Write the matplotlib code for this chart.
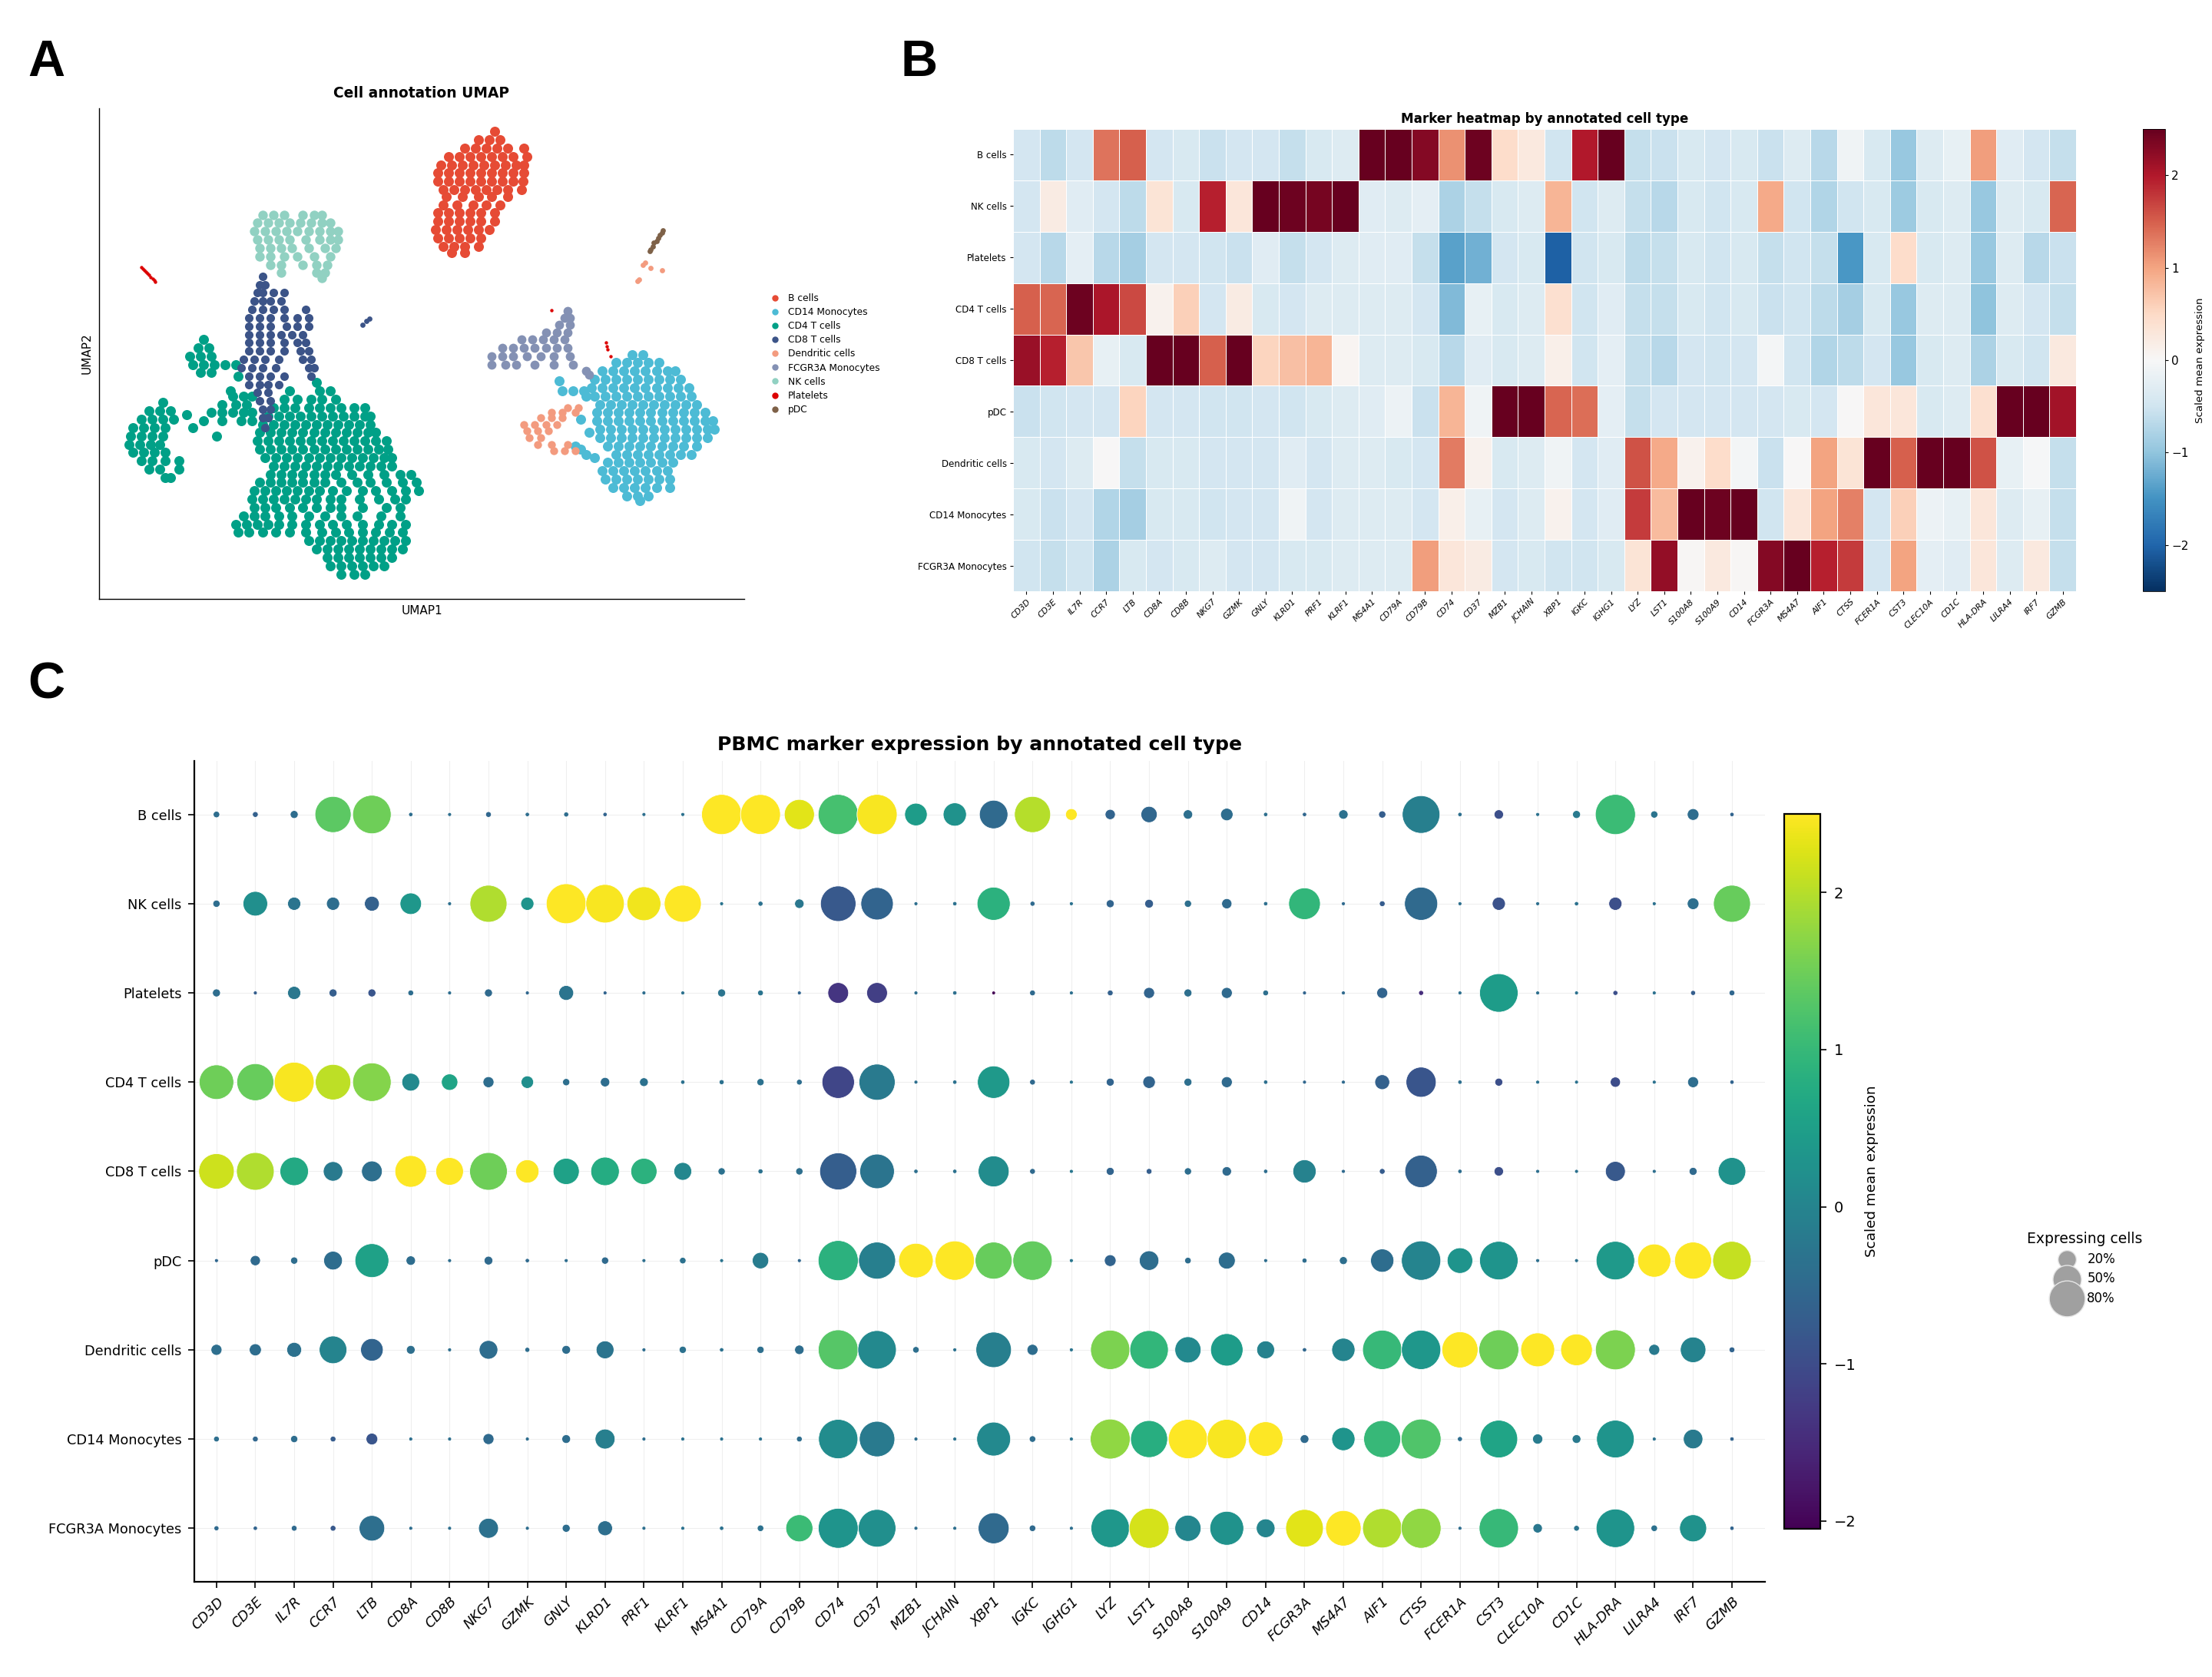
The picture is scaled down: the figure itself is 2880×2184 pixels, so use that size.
import numpy as np
import matplotlib
matplotlib.use("Agg")
import matplotlib.pyplot as plt

W, H = 2880, 2184
DPI = 200

genes = ["CD3D", "CD3E", "IL7R", "CCR7", "LTB", "CD8A", "CD8B", "NKG7", "GZMK", "GNLY",
         "KLRD1", "PRF1", "KLRF1", "MS4A1", "CD79A", "CD79B", "CD74", "CD37", "MZB1", "JCHAIN",
         "XBP1", "IGKC", "IGHG1", "LYZ", "LST1", "S100A8", "S100A9", "CD14", "FCGR3A", "MS4A7",
         "AIF1", "CTSS", "FCER1A", "CST3", "CLEC10A", "CD1C", "HLA-DRA", "LILRA4", "IRF7", "GZMB"]
cell_types = ["B cells", "NK cells", "Platelets", "CD4 T cells", "CD8 T cells", "pDC",
              "Dendritic cells", "CD14 Monocytes", "FCGR3A Monocytes"]

b_mean = [-0.45, -0.65, -0.45, 1.35, 1.5, -0.45, -0.4, -0.55, -0.45, -0.45, -0.6, -0.4, -0.35, 2.5, 2.5, 2.3, 1.15, 2.45, 0.45, 0.25,
          -0.5, 2.0, 2.5, -0.6, -0.55, -0.4, -0.45, -0.4, -0.55, -0.35, -0.7, -0.1, -0.4, -0.95, -0.35, -0.2, 1.05, -0.3, -0.45, -0.6]
nk_mean = [-0.45, 0.2, -0.3, -0.45, -0.65, 0.35, -0.4, 1.95, 0.3, 2.5, 2.45, 2.4, 2.5, -0.3, -0.35, -0.25, -0.8, -0.6, -0.4, -0.35,
           0.85, -0.5, -0.35, -0.6, -0.7, -0.4, -0.5, -0.4, 0.95, -0.5, -0.75, -0.5, -0.4, -0.9, -0.4, -0.35, -0.95, -0.35, -0.4, 1.45]
plt_mean = [-0.45, -0.7, -0.25, -0.7, -0.85, -0.45, -0.45, -0.5, -0.55, -0.3, -0.6, -0.45, -0.35, -0.3, -0.3, -0.6, -1.35, -1.2, -0.45, -0.4,
            -2.05, -0.5, -0.4, -0.65, -0.6, -0.4, -0.5, -0.4, -0.6, -0.5, -0.6, -1.45, -0.4, 0.45, -0.4, -0.35, -0.95, -0.35, -0.7, -0.55]
cd4_mean = [1.5, 1.45, 2.45, 2.05, 1.65, 0.1, 0.6, -0.45, 0.2, -0.4, -0.45, -0.35, -0.35, -0.35, -0.35, -0.45, -1.1, -0.2, -0.4, -0.35,
            0.4, -0.5, -0.3, -0.6, -0.6, -0.4, -0.5, -0.4, -0.55, -0.5, -0.65, -0.85, -0.4, -0.95, -0.35, -0.35, -1.0, -0.35, -0.45, -0.6]
cd8_mean = [2.15, 1.95, 0.7, -0.2, -0.4, 2.5, 2.5, 1.5, 2.5, 0.55, 0.75, 0.85, 0.05, -0.35, -0.35, -0.4, -0.7, -0.3, -0.4, -0.35,
            0.15, -0.5, -0.25, -0.6, -0.7, -0.45, -0.5, -0.45, -0.05, -0.5, -0.75, -0.65, -0.45, -0.95, -0.4, -0.35, -0.8, -0.4, -0.5, 0.25]
pdc_mean = [-0.55, -0.5, -0.45, -0.45, 0.55, -0.45, -0.45, -0.5, -0.5, -0.45, -0.5, -0.4, -0.35, -0.3, -0.15, -0.55, 0.85, -0.1, 2.5, 2.5,
            1.45, 1.4, -0.25, -0.6, -0.45, -0.45, -0.45, -0.45, -0.45, -0.4, -0.45, 0.0, 0.3, 0.3, -0.4, -0.35, 0.4, 2.5, 2.5, 2.1]
dc_mean = [-0.4, -0.45, -0.35, 0.0, -0.6, -0.4, -0.4, -0.45, -0.45, -0.45, -0.3, -0.45, -0.35, -0.35, -0.4, -0.45, 1.3, 0.1, -0.4, -0.35,
           -0.1, -0.45, -0.3, 1.6, 0.95, 0.1, 0.45, -0.05, -0.55, 0.0, 1.0, 0.35, 2.5, 1.5, 2.5, 2.5, 1.6, -0.2, -0.02, -0.6]
cd14_mean = [-0.4, -0.55, -0.45, -0.75, -0.85, -0.4, -0.4, -0.5, -0.45, -0.45, -0.1, -0.45, -0.35, -0.35, -0.35, -0.45, 0.15, -0.2, -0.45, -0.35,
             0.1, -0.45, -0.3, 1.75, 0.8, 2.5, 2.45, 2.5, -0.5, 0.3, 1.0, 1.25, -0.45, 0.6, -0.15, -0.2, 0.3, -0.35, -0.2, -0.6]
fcgr_mean = [-0.5, -0.6, -0.5, -0.8, -0.4, -0.45, -0.4, -0.35, -0.45, -0.45, -0.4, -0.4, -0.35, -0.35, -0.35, 1.05, 0.3, 0.2, -0.45, -0.4,
             -0.5, -0.5, -0.4, 0.35, 2.2, 0.03, 0.25, 0.02, 2.3, 2.5, 1.95, 1.75, -0.45, 1.0, -0.25, -0.3, 0.3, -0.35, 0.25, -0.6]

# percent of expressing cells
b_pct = [1.8, 1.2, 3.1, 81, 92, .3, .1, 1.2, .3, .7, .3, .1, .1, 100, 99, 56, 100, 100, 31, 33,
         50, 81, 7.7, 5.7, 15.7, 4.7, 8.9, .3, .3, 4.7, 2.4, 88, .3, 4.7, .1, 3.1, 100, 2.4, 7.7, .3]
nk_pct = [2.4, 37, 10, 10, 13, 28, .1, 85, 10, 99, 92, 71, 85, .1, .7, 4.7, 78, 65, .1, .3,
          68, .7, .1, 3.1, 3.9, 2.4, 5.7, .3, 62, .1, 1.2, 68, .1, 10, .1, .3, 10, .1, 7.7, 85]
plt_pct = [3.1, .1, 10, 3.1, 3.1, 1.2, .1, 3.1, .1, 13, .1, .1, .1, 3.1, 1.2, .1, 26, 26, .1, .3,
           0, 1.2, .1, 1.2, 6.7, 3.1, 6.7, 1.2, .1, .1, 6.7, .7, .1, 92, .1, .1, .7, .1, .7, 1.2]
cd4_pct = [74, 85, 99, 78, 92, 19, 16, 6.7, 8.9, 2.4, 4.7, 3.9, .3, .7, 2.4, 1.2, 65, 81, .1, .3,
           65, 1.2, .1, 3.1, 8.9, 3.1, 6.7, .3, .1, .1, 13, 56, .3, 3.1, .1, .1, 5.7, .1, 6.7, .3]
cd8_pct = [78, 88, 50, 23, 26, 62, 47, 88, 33, 42, 50, 42, 19, 2.4, .7, 2.4, 85, 74, .3, .3,
           59, 1.2, .1, 3.1, 1.2, 2.4, 4.7, .3, 33, .1, 1.2, 65, .3, 4.7, .1, .1, 24, .1, 3.1, 47]
pdc_pct = [.1, 5.7, 2.4, 21, 71, 4.7, .1, 3.9, .3, .1, 2.4, .1, 1.8, .1, 16, .1, 100, 85, 74, 96,
           85, 96, .1, 7.7, 23, 1.8, 17, .1, .7, 3.1, 33, 96, 40, 92, .1, .1, 92, 68, 85, 92]
dc_pct = [6.7, 8.3, 13, 47, 31, 3.9, .1, 21, .7, 3.9, 19, .1, 2.4, .3, 2.4, 4.7, 99, 92, 1.8, .1,
          78, 6.7, .1, 96, 92, 42, 65, 19, .3, 33, 96, 96, 81, 99, 71, 62, 99, 6.7, 40, 1.2]
cd14_pct = [1.2, 1.2, 2.4, 1.2, 7.7, .1, .1, 6.7, .1, 3.9, 24, .1, .1, .1, .1, 1.2, 96, 78, .1, .1,
            71, 1.8, .1, 99, 85, 96, 96, 74, 3.9, 33, 85, 99, .7, 88, 5.7, 3.9, 88, .1, 23, .3]
fcgr_pct = [.7, .3, 1.2, 1.2, 40, .1, .1, 24, .1, 3.1, 13, .1, .1, .3, 1.8, 45, 99, 88, .1, .1,
            59, 1.8, .1, 92, 99, 42, 71, 21, 88, 78, 96, 99, .1, 96, 4.7, 1.2, 92, 1.8, 45, .3]

legend_pct = [20, 50, 80]

# UMAP points, (y, [x, ...]) rows; the axes have no ticks so units are arbitrary
umap_b = [(95, [775]), (120, [745, 765, 785]), (145, [720, 740, 760, 780, 800, 830]),
          (170, [690, 710, 730, 750, 770, 790, 810, 835]),
          (195, [675, 695, 715, 735, 755, 775, 795, 815, 830]),
          (220, [670, 690, 710, 730, 750, 770, 790, 810, 830]),
          (245, [670, 690, 710, 730, 750, 770, 790, 810, 828]),
          (270, [680, 700, 720, 740, 760, 780, 800, 825]),
          (290, [685, 715, 745, 770, 800]), (315, [680, 705, 735, 760, 785]),
          (340, [670, 690, 710, 730, 750, 775]), (365, [670, 690, 710, 730, 750, 775]),
          (390, [665, 685, 705, 725, 745, 765]), (415, [670, 690, 710, 730, 750]),
          (440, [680, 700, 720, 745]), (460, [695, 720])]
umap_cd14 = [(765, [1030, 1050]), (790, [1000, 1020, 1040, 1060, 1080]),
             (815, [975, 995, 1015, 1035, 1055, 1075, 1095, 1110]),
             (840, [960, 980, 1000, 1020, 1040, 1060, 1080, 1100, 1120]),
             (865, [955, 975, 995, 1015, 1035, 1055, 1075, 1095, 1115, 1135]),
             (890, [960, 980, 1000, 1020, 1040, 1060, 1080, 1100, 1120, 1140]),
             (915, [970, 990, 1010, 1030, 1050, 1070, 1090, 1110, 1130, 1150]),
             (940, [965, 985, 1005, 1025, 1045, 1065, 1085, 1105, 1125, 1145, 1165]),
             (965, [965, 985, 1005, 1025, 1045, 1065, 1085, 1105, 1125, 1145, 1165, 1180]),
             (990, [970, 990, 1010, 1030, 1050, 1070, 1090, 1110, 1130, 1150, 1170, 1182]),
             (1015, [970, 990, 1010, 1030, 1050, 1070, 1090, 1110, 1130, 1150, 1170]),
             (1040, [985, 1005, 1025, 1045, 1065, 1085, 1105, 1125, 1150]),
             (1065, [1000, 1020, 1040, 1060, 1080, 1100, 1120, 1140]),
             (1090, [985, 1005, 1025, 1045, 1065, 1085, 1105]),
             (1115, [975, 995, 1015, 1035, 1055, 1075, 1095]),
             (1140, [980, 1000, 1020, 1040, 1060, 1080, 1100]),
             (1165, [995, 1015, 1035, 1055, 1075, 1100]), (1190, [1020, 1040, 1060]), (1205, [1045]),
             (875, [900, 920, 940]), (890, [945]), (1050, [935]), (1065, [945]), (1075, [960]),
             (1040, [925]), (1000, [950]), (960, [935]), (845, [895])]
umap_cd4 = [(720, [235]), (745, [225, 245]), (770, [210, 230, 250]), (795, [215, 235, 255, 275, 295]),
            (820, [230, 250]), (830, [300]),
            (910, [160]), (935, [135, 155, 175]), (960, [120, 140, 160, 180]),
            (985, [105, 125, 145, 165, 215]), (1010, [100, 120, 140, 160, 260]),
            (1035, [98, 118, 138, 155]), (1060, [105, 125, 145, 165]), (1085, [120, 140, 165, 190]),
            (1110, [135, 155, 190]), (1135, [165, 175]), (945, [205]),
            (850, [445]), (875, [395, 450, 470, 285]), (890, [290, 310, 325]), (915, [270, 295, 315]),
            (900, [385, 410, 435, 455, 480]), (925, [365, 385, 405, 430, 450, 470, 490, 515, 535]),
            (940, [250, 270, 290, 310, 325]),
            (950, [355, 375, 395, 415, 435, 455, 475, 495, 515, 535, 545]),
            (965, [235, 270, 305, 325]),
            (975, [345, 365, 385, 405, 425, 445, 465, 485, 505, 525, 545]),
            (1000, [340, 360, 380, 400, 420, 440, 460, 480, 500, 520, 540, 555]),
            (1025, [335, 355, 375, 395, 415, 435, 455, 475, 495, 515, 535, 555, 575]),
            (1050, [340, 360, 380, 400, 420, 440, 460, 480, 500, 520, 540, 560, 578]),
            (1075, [350, 370, 390, 410, 430, 450, 470, 490, 510, 530, 550, 570, 585]),
            (1100, [365, 385, 405, 425, 445, 465, 485, 505, 525, 545, 565, 585]),
            (1125, [360, 380, 400, 420, 440, 460, 480, 510, 540, 570, 600, 620]),
            (1150, [340, 360, 380, 400, 420, 440, 460, 490, 520, 545, 575, 605, 630]),
            (1175, [330, 350, 370, 390, 410, 430, 450, 475, 500, 530, 555, 585, 610, 635]),
            (1200, [325, 345, 365, 385, 405, 425, 445, 470, 490, 525, 560, 590, 610]),
            (1225, [330, 350, 370, 395, 420, 445, 470, 490, 530, 575, 600]),
            (1250, [310, 330, 350, 375, 400, 430, 460, 490, 520, 565, 600]),
            (1275, [295, 315, 335, 355, 375, 400, 425, 450, 475, 500, 530, 560, 585, 610]),
            (1300, [300, 320, 345, 370, 395, 425, 455, 480, 505, 530, 555, 580, 605]),
            (1325, [430, 450, 470, 490, 510, 530, 550, 570, 590, 610]),
            (1350, [445, 465, 485, 505, 525, 545, 565, 585, 605]),
            (1375, [465, 485, 505, 525, 545, 565, 585]), (1400, [470, 490, 510, 530, 550, 570]),
            (1425, [490, 515, 535])]
umap_cd8 = [(530, [345]), (555, [340, 350]), (580, [335, 345, 365, 385]), (605, [330, 345, 360, 380]),
            (630, [325, 345, 365, 385, 425]), (655, [320, 340, 360, 385, 410, 430]),
            (680, [320, 340, 360, 390, 410, 430]), (705, [320, 340, 360, 380, 400, 420]),
            (730, [320, 340, 360, 385, 410, 425]), (755, [320, 340, 360, 385, 415, 430]),
            (780, [310, 330, 350, 375, 420, 435]), (805, [305, 325, 345, 370, 430, 440]),
            (830, [320, 340, 360, 385, 435]), (855, [320, 340, 355, 375]), (880, [335, 355]),
            (905, [340, 360]), (930, [345, 360]), (955, [345, 355]), (985, [350])]
umap_cd8_island = [(675, [530]), (665, [537]), (657, [543])]
umap_dc = [(925, [930, 910]), (940, [880, 900, 925]), (955, [860, 880, 900]), (975, [830, 850, 870, 890]),
           (995, [835, 855, 875]), (1015, [840, 860]), (1035, [855, 880, 910]), (1055, [885, 905, 925])]
umap_dc_far = [(488, [1055]), (495, [1050]), (513, [1085]), (505, [1065]), (540, [1043]), (545, [1040])]
umap_fcgr = [(635, [910]), (655, [905, 915]), (675, [895, 915]), (700, [870, 890, 910]),
             (720, [825, 845, 865, 885, 905]), (745, [790, 810, 830, 850, 870, 890, 910]),
             (770, [770, 790, 810, 835, 860, 885, 915]), (795, [770, 795, 815, 850, 885, 920]),
             (815, [945]), (825, [950])]
umap_nk = [(345, [345, 365, 385, 420, 440, 455]), (370, [335, 355, 375, 395, 415, 435, 455, 470]),
           (395, [330, 350, 370, 390, 410, 430, 450, 470, 485]),
           (420, [335, 355, 375, 395, 425, 450, 470, 485]), (445, [340, 360, 380, 400, 430, 460, 480]),
           (470, [340, 360, 385, 410, 440, 470]), (495, [360, 380, 420, 445, 465]),
           (520, [380, 445, 460]), (535, [455])]
umap_platelets = [(502, [120]), (507, [123]), (512, [126]), (517, [129]), (522, [132]), (527, [135]),
                  (532, [138]), (537, [141]), (542, [144]), (546, [146]),
                  (730, [982]), (740, [983]), (750, [985]), (770, [990]), (632, [880])]
umap_pdc = [(392, [1087]), (400, [1085]), (405, [1082]), (415, [1078]), (425, [1075]), (430, [1070]),
            (440, [1068]), (450, [1065]), (455, [1063])]

umap_clusters = [("B cells", umap_b, "#E64B35", 22), ("CD14 Monocytes", umap_cd14, "#4DBBD5", 22),
                 ("CD4 T cells", umap_cd4, "#00A087", 22), ("CD8 T cells", umap_cd8, "#3C5488", 16),
                 ("Dendritic cells", umap_dc, "#F39B7F", 14), ("FCGR3A Monocytes", umap_fcgr, "#8491B4", 18),
                 ("NK cells", umap_nk, "#91D1C2", 20), ("Platelets", umap_platelets, "#DC0000", 2.5),
                 ("pDC", umap_pdc, "#7E6148", 6)]
umap_extra = [(umap_cd8_island, "#3C5488", 6), (umap_dc_far, "#F39B7F", 6)]


def px_axes(fig, left, top, right, bottom):
    return fig.add_axes([left / W, 1 - bottom / H, (right - left) / W, (bottom - top) / H])


def dot_size(pct):
    return 3 + 3.5 * np.asarray(pct, dtype=float)


mean_expr = np.array([b_mean, nk_mean, plt_mean, cd4_mean, cd8_mean, pdc_mean, dc_mean, cd14_mean, fcgr_mean])
pct_expr = np.array([b_pct, nk_pct, plt_pct, cd4_pct, cd8_pct, pdc_pct, dc_pct, cd14_pct, fcgr_pct])

fig = plt.figure(figsize=(W / DPI, H / DPI), dpi=DPI)

# panel letters
for letter, x, y in [("A", 60, 82), ("B", 1197, 82), ("C", 60, 892)]:
    fig.text(x / W, 1 - y / H, letter, fontsize=24, fontweight="bold", family="Liberation Sans",
             ha="center", va="center")

# A: UMAP
ax = px_axes(fig, 129, 141, 969, 780)
for name, rows, color, s in umap_clusters:
    xs = [x for y, row in rows for x in row]
    ys = [y for y, row in rows for x in row]
    ax.scatter(xs, ys, s=s, c=color, linewidths=0, label=name)
for rows, color, s in umap_extra:
    xs = [x for y, row in rows for x in row]
    ys = [y for y, row in rows for x in row]
    ax.scatter(xs, ys, s=s, c=color, linewidths=0)
ax.set_xlim(42, 1238)
ax.set_ylim(1500, 25)
ax.set_xticks([])
ax.set_yticks([])
ax.spines["top"].set_visible(False)
ax.spines["right"].set_visible(False)
ax.spines["left"].set_linewidth(0.5)
ax.spines["bottom"].set_linewidth(0.5)
ax.set_xlabel("UMAP1", fontsize=5.5, labelpad=3)
ax.set_ylabel("UMAP2", fontsize=5.5, labelpad=3)
ax.set_title("Cell annotation UMAP", fontsize=6.7, fontweight="bold", pad=5)
leg_handles = [plt.Line2D([], [], ls="", marker="o", ms=2, color=c[2]) for c in umap_clusters]
fig.legend(leg_handles, [c[0] for c in umap_clusters], loc="center left",
           bbox_to_anchor=(994 / W, 1 - 461 / H), frameon=False, fontsize=4.4,
           labelspacing=0.42, handletextpad=0.6, borderpad=0, handlelength=1.5)

# B: heatmap
ax = px_axes(fig, 1319, 168, 2703, 770)
mesh = ax.pcolormesh(mean_expr, cmap="RdBu_r", vmin=-2.5, vmax=2.5, edgecolors="white", linewidth=0.3)
ax.set_ylim(len(cell_types), 0)
ax.set_xticks(np.arange(len(genes)) + 0.5)
ax.set_xticklabels(genes, rotation=45, ha="right", rotation_mode="anchor", fontsize=3.9, style="italic")
ax.set_yticks(np.arange(len(cell_types)) + 0.5)
ax.set_yticklabels(cell_types, fontsize=4.3)
ax.tick_params(length=1.5, width=0.4, pad=1.5)
for sp in ax.spines.values():
    sp.set_visible(False)
ax.set_title("Marker heatmap by annotated cell type", fontsize=6.05, fontweight="bold", pad=3)
cax = px_axes(fig, 2790, 168, 2819, 770)
cb = fig.colorbar(mesh, cax=cax, ticks=[-2, -1, 0, 1, 2])
cb.ax.tick_params(labelsize=5.5, length=1.5, width=0.4, pad=1.5)
cb.outline.set_linewidth(0.3)
cb.set_label("Scaled mean expression", fontsize=4.8, labelpad=3)

# C: dot plot
ax = px_axes(fig, 253, 991, 2298, 2060)
xx, yy = np.meshgrid(np.arange(len(genes)), np.arange(len(cell_types)))
ax.grid(True, color="#ececec", linewidth=0.4, alpha=0.8)
ax.set_axisbelow(True)
sc = ax.scatter(xx.ravel(), yy.ravel(), s=dot_size(pct_expr.ravel()), c=mean_expr.ravel(),
                cmap="viridis", vmin=-2.05, vmax=2.5, edgecolors="white", linewidths=0.3, zorder=3)
ax.set_xlim(-0.57, 39.85)
ax.set_ylim(8.6, -0.6)
ax.set_xticks(np.arange(len(genes)))
ax.set_xticklabels(genes, rotation=45, ha="right", rotation_mode="anchor", fontsize=6.4, style="italic")
ax.set_yticks(np.arange(len(cell_types)))
ax.set_yticklabels(cell_types, fontsize=6.4)
ax.tick_params(length=3, width=0.6, pad=3)
ax.spines["top"].set_visible(False)
ax.spines["right"].set_visible(False)
ax.spines["left"].set_linewidth(0.8)
ax.spines["bottom"].set_linewidth(0.8)
fig.text(1276 / W, 1 - 970 / H, "PBMC marker expression by annotated cell type",
         fontsize=9.05, fontweight="bold", ha="center", va="center")
cax = px_axes(fig, 2323, 1060, 2370, 1991)
cb = fig.colorbar(sc, cax=cax, ticks=[-2, -1, 0, 1, 2])
cb.ax.tick_params(labelsize=7, length=3, width=0.6)
cb.outline.set_linewidth(0.8)
cb.set_label("Scaled mean expression", fontsize=6.6, labelpad=4)

size_handles = [ax.scatter([], [], s=dot_size(p), c="#a0a0a0", edgecolors="#e6e6e6", linewidths=0.5)
                for p in legend_pct]
fig.legend(size_handles, [f"{p}%" for p in legend_pct], title="Expressing cells", loc="center",
           bbox_to_anchor=(2714 / W, 1 - 1652 / H), frameon=False, fontsize=6, title_fontsize=6.75,
           labelspacing=0.45, handletextpad=0.6, borderpad=0, scatterpoints=1)

fig.savefig("out.png", dpi=DPI, facecolor="white")
